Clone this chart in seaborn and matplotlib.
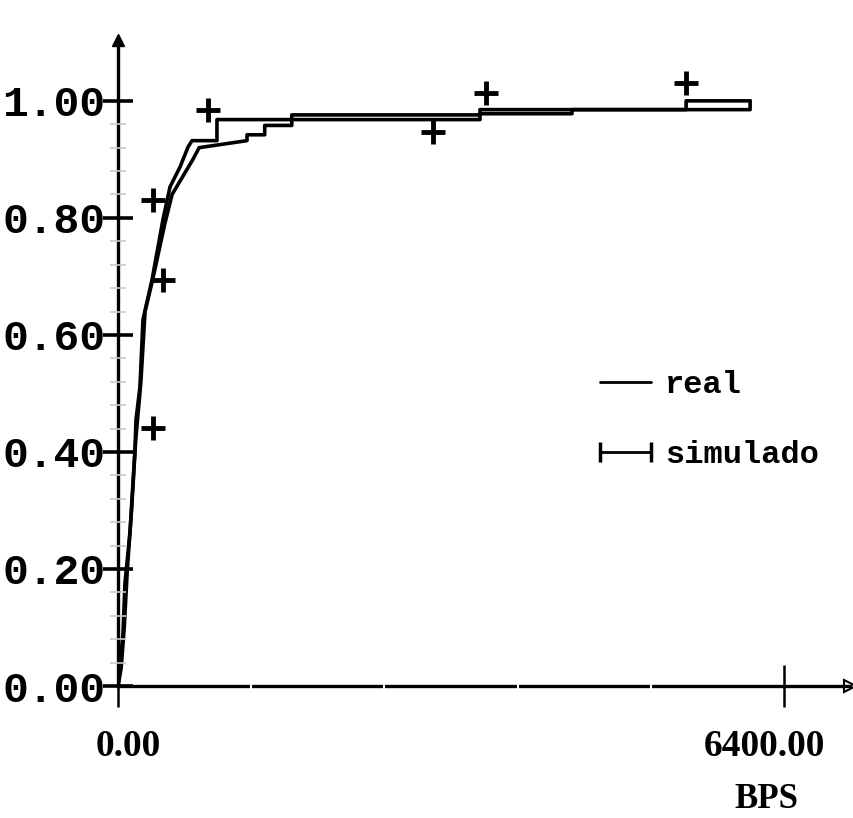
import matplotlib
matplotlib.use("Agg")
import matplotlib.pyplot as plt
import matplotlib.transforms as mtransforms
import seaborn as sns
import pandas as pd
from matplotlib.lines import Line2D

# ---- data ----
real_bps = [0, 19, 48, 67, 115, 163, 173, 211, 240, 327, 432, 500, 596, 673, 711,
            951, 951, 3479, 3479, 4363, 4363, 5460, 5460, 6075]
real_cdf = [0.0, 0.032, 0.091, 0.176, 0.262, 0.403, 0.455, 0.511, 0.626, 0.694, 0.797,
            0.853, 0.887, 0.921, 0.932, 0.932, 0.968, 0.968, 0.978, 0.978, 0.985, 0.985,
            1.0, 1.0]

sim_bps = [0, 30, 60, 90, 130, 170, 220, 260, 340, 450, 520, 620, 720, 780, 1240, 1240,
           1410, 1410, 1670, 1670, 3479, 3479, 6075, 6075]
sim_cdf = [0.0, 0.03, 0.10, 0.20, 0.30, 0.42, 0.52, 0.64, 0.70, 0.79, 0.84, 0.87, 0.90,
           0.92, 0.932, 0.942, 0.942, 0.958, 0.958, 0.976, 0.976, 0.985, 0.985, 1.0]

mark_bps = [336, 432, 336, 865, 3027, 3537, 5458]
mark_cdf = [0.441, 0.694, 0.831, 0.985, 0.947, 1.014, 1.031]

y_ticks = [0.0, 0.2, 0.4, 0.6, 0.8, 1.0]
y_labels = ["0.00", "0.20", "0.40", "0.60", "0.80", "1.00"]
x_ticks = [0, 6400]
x_labels = ["0.00", "6400.00"]
x_minor = [1280, 2560, 3840, 5120]
y_minor = [0.04, 0.08, 0.12, 0.16, 0.24, 0.28, 0.32, 0.36, 0.44, 0.48, 0.52, 0.56,
           0.64, 0.68, 0.72, 0.76, 0.84, 0.88, 0.92, 0.96]

sns.set_theme(style="white")
plt.rcParams["text.color"] = "black"
plt.rcParams["xtick.color"] = "black"
plt.rcParams["ytick.color"] = "black"
plt.rcParams["axes.labelcolor"] = "black"
serif = ["Liberation Serif", "DejaVu Serif"]
mono = ["Liberation Mono", "DejaVu Sans Mono"]

fig = plt.figure(figsize=(8.54, 8.18), dpi=100)
ax = fig.add_axes([118 / 854, 1 - 686 / 818, (850 - 118) / 854, (686 - 40) / 818])

real_df = pd.DataFrame({"bps": real_bps, "cdf": real_cdf})
sim_df = pd.DataFrame({"bps": sim_bps, "cdf": sim_cdf})
sns.lineplot(data=real_df, x="bps", y="cdf", sort=False, estimator=None,
             color="black", lw=2.6, ax=ax)
sns.lineplot(data=sim_df, x="bps", y="cdf", sort=False, estimator=None,
             color="black", lw=2.6, ax=ax)
ax.plot(mark_bps, mark_cdf, linestyle="none", marker="+", markersize=17,
        markeredgewidth=3.5, color="black")

ax.set_xlim(0, 7035)
ax.set_ylim(0, 1.104)

for s in ["top", "right"]:
    ax.spines[s].set_visible(False)
for s in ["left", "bottom"]:
    ax.spines[s].set_color("black")
    ax.spines[s].set_linewidth(2.4)

ax.set_yticks(y_ticks)
ax.set_yticklabels(y_labels, family=mono, fontsize=31, fontweight="bold")
ax.set_yticks(y_minor, minor=True)
ax.set_xticks(x_ticks)
ax.set_xticklabels(x_labels, family=serif, fontsize=27, fontweight="bold")
ax.set_xticks(x_minor, minor=True)

ax.tick_params(axis="y", which="major", direction="inout", length=22, width=2.6,
               color="black", pad=-2, left=True)
ax.tick_params(axis="y", which="minor", direction="inout", length=12, width=1.2,
               color="#c8c8c8", left=True)
ax.tick_params(axis="x", which="major", direction="inout", length=30, width=1.8,
               color="black", pad=16, bottom=True)
ax.tick_params(axis="x", which="minor", direction="inout", length=7, width=1.5,
               color="white", bottom=True)
ax.xaxis.set_zorder(3)
ax.yaxis.set_zorder(3)

# nudge x tick labels like the reference
shifts = [10, -19]
for lab, dx in zip(ax.get_xticklabels(), shifts):
    lab.set_transform(lab.get_transform() +
                      mtransforms.ScaledTranslation(dx / 100, 0, fig.dpi_scale_trans))

ax.set_xlabel("BPS", family=serif, fontsize=25, fontweight="bold")
ax.xaxis.set_label_coords((766 - 118) / 732, -0.150)
ax.set_ylabel("")

# axis arrow heads
ax.plot([0], [1], marker="^", markersize=8, color="black", transform=ax.transAxes,
        clip_on=False)
ax.plot([1], [0], marker=">", markersize=9, markerfacecolor="white",
        markeredgecolor="black", markeredgewidth=1.5, transform=ax.transAxes,
        clip_on=False)

handles = [Line2D([], [], color="black", lw=2),
           Line2D([], [], color="black", lw=2, marker="|", markersize=15,
                  markeredgewidth=2.5)]
leg = ax.legend(handles, ["real", "simulado"], loc="upper left",
                bbox_to_anchor=((590 - 118) / 732, (686 - 370) / 646),
                borderaxespad=0, borderpad=0,
                frameon=False, handlelength=2.2, handletextpad=0.15, labelspacing=1.25,
                numpoints=2, prop={"family": mono, "size": 23, "weight": "bold"})

fig.savefig("out.png", dpi=100)
